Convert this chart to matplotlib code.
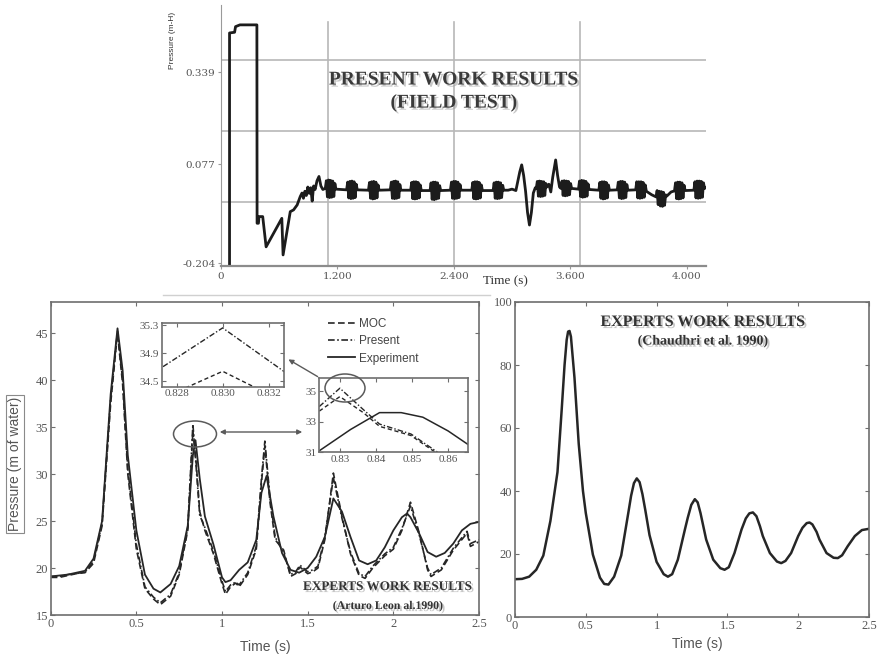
import matplotlib
matplotlib.use("Agg")
import matplotlib.pyplot as plt
import matplotlib.patheffects as pe
from matplotlib.patches import Ellipse, FancyArrowPatch
from matplotlib.lines import Line2D

W, H = 882, 659

# ---------------- data ----------------
# top panel: field test record (time s, pressure m-H)
field_t = [0.088, 0.088, 0.140, 0.150, 0.195, 0.370, 0.372, 0.386, 0.392, 0.430,
           0.465, 0.627, 0.640, 0.714, 0.748, 0.785, 0.817, 0.835, 0.850, 0.865,
           0.880, 0.895, 0.910, 0.925, 0.940, 0.955, 0.970, 0.990, 1.010, 1.030, 1.050,
           1.075, 1.086, 1.097, 1.108, 1.119, 1.130, 1.141, 1.152, 1.163, 1.174, 1.185,
           1.295, 1.306, 1.317, 1.328, 1.339, 1.350, 1.361, 1.372, 1.383, 1.394, 1.405,
           1.520, 1.531, 1.542, 1.553, 1.564, 1.575, 1.586, 1.597, 1.608, 1.619, 1.630,
           1.745, 1.756, 1.767, 1.778, 1.789, 1.800, 1.811, 1.822, 1.833, 1.844, 1.855,
           1.955, 1.966, 1.977, 1.988, 1.999, 2.010, 2.021, 2.032, 2.043, 2.054, 2.065,
           2.155, 2.166, 2.177, 2.188, 2.199, 2.210, 2.221, 2.232, 2.243, 2.254, 2.265,
           2.365, 2.376, 2.387, 2.398, 2.409, 2.420, 2.431, 2.442, 2.453, 2.464, 2.475,
           2.585, 2.596, 2.607, 2.618, 2.629, 2.640, 2.651, 2.662, 2.673, 2.684, 2.695,
           2.805, 2.816, 2.827, 2.838, 2.849, 2.860, 2.871, 2.882, 2.893, 2.904, 2.915,
           2.960, 3.000, 3.040, 3.080, 3.100, 3.120, 3.140, 3.160, 3.180, 3.200, 3.220, 3.240,
           3.250, 3.261, 3.272, 3.283, 3.294, 3.305, 3.316, 3.327, 3.338, 3.349, 3.360,
           3.380, 3.400, 3.420, 3.450, 3.470, 3.490,
           3.505, 3.516, 3.527, 3.538, 3.549, 3.560, 3.571, 3.582, 3.593, 3.604, 3.615,
           3.685, 3.696, 3.707, 3.718, 3.729, 3.740, 3.751, 3.762, 3.773, 3.784, 3.795,
           3.895, 3.906, 3.917, 3.928, 3.939, 3.950, 3.961, 3.972, 3.983, 3.994, 4.005,
           4.085, 4.096, 4.107, 4.118, 4.129, 4.140, 4.151, 4.162, 4.173, 4.184, 4.195,
           4.275, 4.286, 4.297, 4.308, 4.319, 4.330, 4.341, 4.352, 4.363, 4.374, 4.385,
           4.440,
           4.485, 4.496, 4.507, 4.518, 4.529, 4.540, 4.551, 4.562, 4.573, 4.584, 4.595,
           4.640,
           4.675, 4.686, 4.697, 4.708, 4.719, 4.730, 4.741, 4.752, 4.763, 4.774, 4.785,
           4.875, 4.886, 4.897, 4.908, 4.919, 4.930, 4.941, 4.952, 4.963, 4.974, 4.985,
           4.995]
field_p = [-0.215, 0.450, 0.452, 0.468, 0.473, 0.473, -0.091, -0.091, -0.072, -0.072,
           -0.158, -0.077, -0.181, -0.058, -0.053, -0.039, -0.015, -0.005, -0.020, 0.000,
           -0.012, 0.012, -0.006, 0.010, -0.028, 0.015, 0.005, 0.030, 0.042, 0.015, 0.005,
           0.008, 0.030, -0.016, 0.032, -0.018, 0.031, -0.017, 0.029, -0.015, 0.022, 0.006,
           0.004, 0.026, -0.019, 0.028, -0.021, 0.029, -0.020, 0.027, -0.018, 0.020, 0.004,
           0.003, 0.025, -0.020, 0.027, -0.022, 0.028, -0.021, 0.026, -0.019, 0.018, 0.003,
           0.004, 0.026, -0.020, 0.028, -0.021, 0.029, -0.020, 0.027, -0.018, 0.019, 0.003,
           0.003, 0.025, -0.021, 0.027, -0.022, 0.027, -0.021, 0.025, -0.019, 0.018, 0.002,
           0.002, 0.024, -0.023, 0.026, -0.024, 0.026, -0.022, 0.024, -0.020, 0.016, 0.002,
           0.003, 0.026, -0.020, 0.028, -0.021, 0.028, -0.020, 0.026, -0.018, 0.019, 0.003,
           0.003, 0.025, -0.021, 0.027, -0.022, 0.027, -0.021, 0.025, -0.019, 0.018, 0.002,
           0.002, 0.024, -0.020, 0.026, -0.021, 0.026, -0.020, 0.024, -0.018, 0.017, 0.003,
           0.003, 0.006, 0.002, 0.055, 0.075, 0.045, 0.000, -0.060, -0.096, -0.060, -0.005, 0.010,
           0.008, 0.028, -0.014, 0.029, -0.015, 0.028, -0.014, 0.027, -0.012, 0.022, 0.012,
           0.020, -0.002, 0.040, 0.089, 0.045, 0.012,
           0.008, 0.029, -0.012, 0.030, -0.013, 0.029, -0.012, 0.028, -0.010, 0.022, 0.008,
           0.006, 0.029, -0.015, 0.031, -0.017, 0.030, -0.016, 0.028, -0.014, 0.021, 0.005,
           0.003, 0.025, -0.020, 0.027, -0.022, 0.027, -0.021, 0.025, -0.019, 0.018, 0.003,
           0.004, 0.026, -0.019, 0.028, -0.021, 0.028, -0.020, 0.026, -0.018, 0.019, 0.003,
           0.004, 0.027, -0.019, 0.027, -0.020, 0.027, -0.019, 0.025, -0.017, 0.018, 0.000,
           -0.010,
           -0.016, 0.002, -0.038, 0.000, -0.042, -0.001, -0.043, -0.003, -0.040, -0.010, -0.014,
           -0.002,
           0.001, 0.024, -0.021, 0.026, -0.022, 0.026, -0.021, 0.024, -0.019, 0.017, 0.002,
           0.003, 0.027, -0.019, 0.029, -0.020, 0.029, -0.019, 0.028, -0.017, 0.024, 0.008,
           0.010]
field_xticks = [0, 1.2, 2.4, 3.6, 4.8]
field_xlabels = ["0", "1.200", "2.400", "3.600", "4.000"]
field_yticks = [-0.204, 0.077, 0.339]
field_ylabels = ["-0.204", "0.077", "0.339"]
field_xgrid = [1.1, 2.4, 3.7]
field_ygrid = [-0.031, 0.171, 0.373]

# bottom left: Leon et al. comparison (m of water)
exp_t = [0.00, 0.05, 0.10, 0.15, 0.20, 0.25, 0.30, 0.35, 0.39, 0.42, 0.45, 0.50, 0.55,
         0.60, 0.64, 0.70, 0.75, 0.80, 0.83, 0.845, 0.87, 0.90, 0.95, 1.00, 1.02, 1.05,
         1.10, 1.15, 1.20, 1.23, 1.26, 1.30, 1.35, 1.40, 1.45, 1.50, 1.55, 1.60, 1.65,
         1.70, 1.75, 1.80, 1.85, 1.90, 1.95, 2.00, 2.05, 2.08, 2.10, 2.15, 2.20, 2.25,
         2.30, 2.35, 2.40, 2.45, 2.50]
exp_p = [19.1, 19.2, 19.3, 19.5, 19.7, 21.0, 25.0, 38.5, 45.5, 41.0, 32.0, 24.0, 19.3,
         17.8, 17.4, 18.3, 20.2, 24.5, 32.0, 33.6, 29.5, 25.5, 22.5, 19.0, 18.5, 18.7,
         19.8, 20.6, 23.0, 28.0, 29.8, 25.5, 21.6, 19.8, 19.5, 20.0, 21.2, 23.3, 27.4,
         26.0, 23.3, 20.8, 20.4, 20.8, 22.2, 24.0, 25.4, 25.8, 25.4, 23.7, 21.7, 21.2,
         21.6, 22.6, 24.0, 24.7, 24.9]
sim_t = [0.00, 0.05, 0.10, 0.15, 0.20, 0.25, 0.30, 0.35, 0.39, 0.42, 0.45, 0.50, 0.55,
         0.60, 0.64, 0.70, 0.75, 0.80, 0.83, 0.85, 0.87, 0.90, 0.95, 1.00, 1.02, 1.05,
         1.08, 1.10, 1.15, 1.20, 1.23, 1.25, 1.28, 1.31, 1.36, 1.40, 1.43, 1.455, 1.50,
         1.53, 1.56, 1.60, 1.65, 1.70, 1.75, 1.80, 1.835, 1.88, 1.95, 2.00, 2.05, 2.10,
         2.15, 2.20, 2.22, 2.28, 2.35, 2.43, 2.45, 2.50]
moc_p = [19.0, 19.0, 19.2, 19.4, 19.5, 20.5, 24.5, 37.5, 45.0, 39.5, 30.0, 22.0, 17.8,
         16.7, 16.1, 17.0, 19.3, 24.0, 34.6, 31.0, 26.0, 24.0, 21.5, 18.3, 17.2, 18.0,
         18.4, 18.0, 19.3, 22.0, 29.0, 33.0, 27.0, 23.0, 21.9, 19.1, 19.4, 20.1, 19.4,
         19.6, 20.0, 23.0, 30.1, 25.5, 21.5, 19.2, 18.9, 20.0, 21.3, 22.0, 24.0, 27.0,
         23.8, 19.8, 19.1, 19.8, 21.9, 23.7, 22.3, 22.8]
present_p = [19.1, 19.1, 19.3, 19.4, 19.6, 20.7, 24.8, 38.0, 45.2, 40.0, 30.5, 22.5, 18.0,
             16.9, 16.3, 17.2, 19.5, 24.3, 35.3, 30.5, 25.6, 24.3, 21.8, 18.6, 17.5, 18.2,
             18.5, 18.2, 19.5, 22.3, 29.5, 33.5, 27.5, 23.3, 21.6, 19.3, 19.6, 20.3, 19.6,
             19.8, 20.2, 23.3, 29.6, 25.3, 21.7, 19.4, 19.1, 20.2, 21.5, 22.2, 24.2, 26.6,
             23.6, 20.0, 19.3, 20.0, 22.1, 23.9, 22.6, 23.0]

# zoomed insets around the second peak
zoom1_t = [0.8270, 0.8300, 0.8330]
zoom1_present = [34.62, 35.26, 34.56]
zoom1_moc = [34.20, 34.64, 34.15]
zoom2_exp_t = [0.8243, 0.8330, 0.8410, 0.8470, 0.8530, 0.8600, 0.8656]
zoom2_exp_p = [31.1, 32.5, 33.6, 33.6, 33.3, 32.4, 31.5]
zoom2_t = [0.8243, 0.8300, 0.8365, 0.8410, 0.8497, 0.8571]
zoom2_present = [34.0, 35.2, 33.8, 32.85, 32.2, 31.0]
zoom2_moc = [33.7, 34.65, 33.6, 32.7, 32.1, 30.9]

# bottom right: Chaudhry et al.
chaud_t = [0.00, 0.05, 0.10, 0.15, 0.20, 0.25, 0.30, 0.33, 0.35, 0.365, 0.375, 0.385,
           0.395, 0.42, 0.45, 0.48, 0.50, 0.55, 0.60, 0.63, 0.66, 0.70, 0.75, 0.80, 0.82,
           0.84, 0.86, 0.88, 0.90, 0.92, 0.95, 1.00, 1.05, 1.08, 1.11, 1.15, 1.20, 1.22,
           1.245, 1.27, 1.29, 1.31, 1.33, 1.35, 1.40, 1.45, 1.48, 1.51, 1.55, 1.60, 1.63,
           1.655, 1.68, 1.705, 1.73, 1.75, 1.80, 1.85, 1.88, 1.91, 1.95, 2.00, 2.03, 2.06,
           2.08, 2.10, 2.13, 2.15, 2.20, 2.25, 2.28, 2.31, 2.35, 2.40, 2.45, 2.50]
chaud_p = [12.0, 12.1, 12.8, 15.0, 19.5, 30.5, 46.0, 66.0, 80.0, 88.0, 90.6, 90.8,
           89.0, 76.0, 55.0, 40.0, 33.0, 19.8, 12.5, 10.5, 10.3, 12.8, 19.5, 33.0, 38.5,
           42.5, 44.0, 42.8, 39.0, 34.0, 26.0, 17.5, 13.6, 12.8, 13.6, 18.2, 27.8, 31.5,
           35.6, 37.4, 36.4, 33.0, 28.8, 24.6, 18.2, 15.5, 15.0, 15.8, 20.3, 27.8, 31.3,
           32.9, 33.2, 32.0, 28.8, 25.7, 20.3, 17.6, 17.1, 17.8, 20.3, 25.7, 28.3, 29.8,
           30.0, 29.4, 27.0, 24.6, 20.3, 18.8, 18.7, 19.6, 22.5, 25.7, 27.6, 28.0]

time_ticks = [0, 0.5, 1, 1.5, 2, 2.5]
time_labels = ["0", "0.5", "1", "1.5", "2", "2.5"]


def fx(x):
    return x / W


def fy(y):
    return 1 - y / H


def matlab_axes(ax, size=9):
    for s in ax.spines.values():
        s.set_color("#6e6e6e")
        s.set_linewidth(1.2)
    ax.tick_params(direction="in", top=True, right=True, length=3, width=0.8,
                   color="#6e6e6e", labelsize=size, labelcolor="#555555", pad=2)


plt.rcParams["font.family"] = ["Liberation Serif", "DejaVu Serif"]
fig = plt.figure(figsize=(W / 100, H / 100), dpi=100)
fig.patch.set_facecolor("white")
shadow = [pe.withSimplePatchShadow(offset=(1.5, -1.5), shadow_rgbFace="#9a9a9a", alpha=0.55)]
ink = "#262626"

# ---------- top: field test ----------
ax_top = fig.add_axes([fx(221), fy(266), (706 - 221) / W, (266 - 5) / H])
for y in field_ygrid:
    ax_top.axhline(y, color="#b8b8b8", lw=1.2, zorder=0)
for x in field_xgrid:
    ax_top.axvline(x, ymax=0.935, color="#b8b8b8", lw=1.2, zorder=0)
ax_top.plot(field_t, field_p, color="#1c1c1c", lw=2.0)
ax_top.set_xlim(0, 5.0)
ax_top.set_ylim(-0.2125, 0.5295)
ax_top.set_xticks(field_xticks)
ax_top.set_xticklabels(field_xlabels)
ax_top.set_yticks(field_yticks)
ax_top.set_yticklabels(field_ylabels)
for s in ["top", "right"]:
    ax_top.spines[s].set_visible(False)
ax_top.spines["left"].set_color("#9a9a9a")
ax_top.spines["bottom"].set_color("#8c8c8c")
ax_top.spines["bottom"].set_linewidth(1.6)
ax_top.tick_params(length=2, color="#9a9a9a", labelsize=7.5, labelcolor="#555555", pad=2)
for lab in ax_top.get_xticklabels() + ax_top.get_yticklabels():
    lab.set_fontfamily("DejaVu Serif")
fig.text(fx(505), fy(281), "Time (s)", ha="center", va="center", fontsize=9.5, color="#333333")
fig.text(fx(173), fy(40), "Pressure (m-H)", rotation=90, ha="center", va="center",
         fontsize=6, family="Liberation Sans", color="#333333")
fig.text(fx(454), fy(80), "PRESENT WORK RESULTS", ha="center", va="center", fontsize=14,
         fontweight="bold", color="#3a3a3a", path_effects=shadow)
fig.text(fx(454), fy(103), "(FIELD TEST)", ha="center", va="center", fontsize=14,
         fontweight="bold", color="#3a3a3a", path_effects=shadow)

# ---------- bottom left: Leon ----------
ax_l = fig.add_axes([fx(50.7), fy(615), (479 - 50.7) / W, (615 - 302) / H])
l_moc, = ax_l.plot(sim_t, moc_p, color=ink, lw=1.2, dashes=(4, 2), label="MOC")
l_pre, = ax_l.plot(sim_t, present_p, color=ink, lw=1.2, dashes=(4, 1.5, 1, 1.5), label="Present")
l_exp, = ax_l.plot(exp_t, exp_p, color=ink, lw=1.3, label="Experiment")
ax_l.set_xlim(0, 2.5)
ax_l.set_ylim(15, 48.3)
ax_l.set_xticks(time_ticks)
ax_l.set_xticklabels(time_labels)
ax_l.set_yticks([15, 20, 25, 30, 35, 40, 45])
matlab_axes(ax_l)
ax_l.legend(handles=[l_moc, l_pre, l_exp], loc="upper left", frameon=False,
            bbox_to_anchor=(fx(322), fy(312)), bbox_transform=fig.transFigure,
            handlelength=2.3, handletextpad=0.3, labelspacing=0.45,
            borderpad=0, prop={"family": "Liberation Sans", "size": 8.5})
for txt in ax_l.get_legend().get_texts():
    txt.set_color("#444444")

fig.text(fx(15), fy(464), "Pressure (m of water)", rotation=90, ha="center", va="center",
         fontsize=10, family="Liberation Sans", color="#555555",
         bbox=dict(boxstyle="square,pad=0.12", fc="white", ec="#8a8a8a", lw=0.8))
fig.text(fx(265), fy(647), "Time (s)", ha="center", va="center", fontsize=10,
         family="Liberation Sans", color="#555555")
fig.text(fx(388), fy(587), "EXPERTS WORK RESULTS", ha="center", va="center", fontsize=9.5,
         fontweight="bold", color="#333333", path_effects=shadow)
fig.text(fx(388), fy(606), "(Arturo Leon al.1990)", ha="center", va="center", fontsize=8.5,
         fontweight="bold", color="#333333", path_effects=shadow)

# inset 1
ax_i1 = fig.add_axes([fx(162), fy(386.7), 122 / W, 63.7 / H])
ax_i1.plot(zoom1_t, zoom1_present, color=ink, lw=1.0, dashes=(4, 1.5, 1, 1.5))
ax_i1.plot(zoom1_t, zoom1_moc, color=ink, lw=1.0, dashes=(3, 2))
ax_i1.set_xlim(0.82736, 0.83267)
ax_i1.set_ylim(34.42, 35.33)
ax_i1.set_xticks([0.828, 0.830, 0.832])
ax_i1.set_xticklabels(["0.828", "0.830", "0.832"])
ax_i1.set_yticks([34.5, 34.9, 35.3])
ax_i1.set_yticklabels(["34.5", "34.9", "35.3"])
matlab_axes(ax_i1, 8)

# inset 2
ax_i2 = fig.add_axes([fx(319.3), fy(452.3), 149 / W, 74 / H])
ax_i2.plot(zoom2_t, zoom2_present, color=ink, lw=1.0, dashes=(4, 1.5, 1, 1.5))
ax_i2.plot(zoom2_t, zoom2_moc, color=ink, lw=1.0, dashes=(3, 2))
ax_i2.plot(zoom2_exp_t, zoom2_exp_p, color=ink, lw=1.1)
ax_i2.set_xlim(0.8243, 0.8656)
ax_i2.set_ylim(31.0, 35.85)
ax_i2.set_xticks([0.83, 0.84, 0.85, 0.86])
ax_i2.set_xticklabels(["0.83", "0.84", "0.85", "0.86"])
ax_i2.set_yticks([31, 33, 35])
matlab_axes(ax_i2, 8)

# annotation marks
ann = "#5a5a5a"
fig.add_artist(Ellipse((fx(195), fy(434)), 43 / W, 26 / H, transform=fig.transFigure,
                       fill=False, ec=ann, lw=1.1))
fig.add_artist(Ellipse((fx(345), fy(388)), 40 / W, 28 / H, transform=fig.transFigure,
                       fill=False, ec=ann, lw=1.1))
fig.add_artist(FancyArrowPatch((fx(217), fy(432)), (fx(305), fy(432)), transform=fig.transFigure,
                               arrowstyle="<|-|>", mutation_scale=7, color=ann, lw=1.0))
fig.add_artist(FancyArrowPatch((fx(320), fy(378)), (fx(286), fy(358)), transform=fig.transFigure,
                               arrowstyle="-|>", mutation_scale=7, color=ann, lw=1.0))
fig.add_artist(Line2D([fx(163), fx(490)], [fy(295), fy(295)], transform=fig.transFigure,
                      color="#d0d0d0", lw=1.0))

# ---------- bottom right: Chaudhry ----------
ax_r = fig.add_axes([fx(515), fy(617), (869 - 515) / W, (617 - 302) / H])
ax_r.plot(chaud_t, chaud_p, color=ink, lw=1.8)
ax_r.set_xlim(0, 2.5)
ax_r.set_ylim(0, 100)
ax_r.set_xticks(time_ticks)
ax_r.set_xticklabels(time_labels)
ax_r.set_yticks([0, 20, 40, 60, 80, 100])
matlab_axes(ax_r)
fig.text(fx(697), fy(644), "Time (s)", ha="center", va="center", fontsize=10,
         family="Liberation Sans", color="#555555")
fig.text(fx(703), fy(322), "EXPERTS WORK RESULTS", ha="center", va="center", fontsize=11.5,
         fontweight="bold", color="#333333", path_effects=shadow)
fig.text(fx(703), fy(341), "(Chaudhri et al. 1990)", ha="center", va="center", fontsize=10,
         fontweight="bold", color="#333333", path_effects=shadow)

fig.savefig("out.png", dpi=100)
